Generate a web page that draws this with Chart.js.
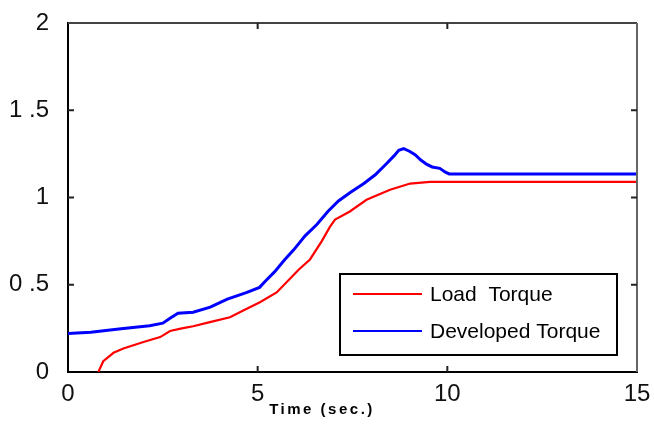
<!DOCTYPE html>
<html>
<head>
<meta charset="utf-8">
<script src="https://cdn.jsdelivr.net/npm/chart.js@4"></script>
<style>
  html, body { margin: 0; padding: 0; background: #fff; }
  #wrap { width: 654px; height: 430px; }
</style>
</head>
<body>
<div id="wrap"><canvas id="c" width="654" height="430"></canvas></div>
<script>
// ---- data ----
const seriesNames = ['Load  Torque', 'Developed Torque'];
const seriesColors = ['#ff0000', '#0000ff'];

const loadTime = [0.8, 0.93, 1.2, 1.46, 1.99, 2.43, 2.69, 3.0, 3.3, 3.74, 4.27, 4.62, 5.06, 5.5, 5.85, 6.1, 6.38, 6.69, 6.9, 7.04, 7.43, 7.87, 8.49, 9.02, 9.54, 15];
const loadTorque = [0, 0.062, 0.11, 0.135, 0.172, 0.2, 0.235, 0.25, 0.262, 0.286, 0.314, 0.352, 0.4, 0.456, 0.535, 0.59, 0.645, 0.75, 0.83, 0.873, 0.92, 0.987, 1.044, 1.08, 1.09, 1.09];

const devTime = [0, 0.6, 1.4, 2.15, 2.5, 2.7, 2.9, 3.3, 3.75, 4.2, 4.7, 5.05, 5.2, 5.45, 5.7, 5.95, 6.25, 6.56, 6.85, 7.13, 7.45, 7.8, 8.1, 8.4, 8.6, 8.72, 8.85, 9.0, 9.15, 9.3, 9.46, 9.6, 9.8, 9.95, 10.05, 15];
const devTorque = [0.22, 0.228, 0.248, 0.265, 0.28, 0.31, 0.337, 0.343, 0.372, 0.418, 0.455, 0.485, 0.52, 0.575, 0.64, 0.7, 0.78, 0.845, 0.92, 0.98, 1.03, 1.08, 1.13, 1.195, 1.24, 1.27, 1.28, 1.265, 1.245, 1.215, 1.19, 1.175, 1.167, 1.145, 1.135, 1.135];

const xTickValues = [0, 5, 10, 15];
const yTickValues = [0, 0.5, 1, 1.5, 2];
const yTickLabels = ['0', '0 .5', '1', '1 .5', '2'];
const xTitle = 'Time (sec.)';

const FONT = "'Liberation Sans', Arial, sans-serif";

const toPoints = (xs, ys) => xs.map((x, i) => ({ x: x, y: ys[i] }));

// frame (top/right borders + inward ticks), legend and x title
const decor = {
  id: 'decor',
  afterDatasetsDraw(chart) {
    const { ctx, chartArea: a, scales } = chart;
    const xs = scales.x, ys = scales.y;
    ctx.save();
    // top and right borders
    ctx.lineWidth = 2;
    ctx.strokeStyle = '#444';
    ctx.beginPath();
    ctx.moveTo(a.left, a.top); ctx.lineTo(a.right, a.top);
    ctx.stroke();
    ctx.strokeStyle = '#666';
    ctx.beginPath();
    ctx.moveTo(a.right, a.top); ctx.lineTo(a.right, a.bottom);
    ctx.stroke();
    // inward ticks
    ctx.strokeStyle = '#222';
    ctx.lineWidth = 2;
    const tl = 6;
    xTickValues.slice(1, -1).forEach(v => {
      const px = xs.getPixelForValue(v);
      ctx.beginPath();
      ctx.moveTo(px, a.bottom); ctx.lineTo(px, a.bottom - tl);
      ctx.moveTo(px, a.top); ctx.lineTo(px, a.top + tl);
      ctx.stroke();
    });
    yTickValues.slice(1, -1).forEach(v => {
      const py = ys.getPixelForValue(v);
      ctx.beginPath();
      ctx.moveTo(a.left, py); ctx.lineTo(a.left + tl, py);
      ctx.moveTo(a.right, py); ctx.lineTo(a.right - tl, py);
      ctx.stroke();
    });
    // legend
    const bx = 340, by = 274, bw = 277, bh = 81;
    ctx.fillStyle = '#fff';
    ctx.fillRect(bx, by, bw, bh);
    ctx.strokeStyle = '#000';
    ctx.lineWidth = 2;
    ctx.strokeRect(bx, by, bw, bh);
    ctx.font = '21px ' + FONT;
    ctx.textBaseline = 'middle';
    ctx.textAlign = 'left';
    chart.data.datasets.forEach((ds, i) => {
      const ly = by + 20 + i * 37;
      ctx.strokeStyle = ds.borderColor;
      ctx.lineWidth = 2;
      ctx.beginPath();
      ctx.moveTo(bx + 13, ly); ctx.lineTo(bx + 82, ly);
      ctx.stroke();
      ctx.fillStyle = '#000';
      ctx.fillText(ds.label, bx + 90, ly + 1);
    });
    // x title
    ctx.font = 'bold 15px ' + FONT;
    ctx.fillStyle = '#000';
    ctx.textAlign = 'center';
    ctx.textBaseline = 'middle';
    try { ctx.letterSpacing = '2.5px'; } catch (e) {}
    ctx.fillText(xTitle, 322, 410);
    ctx.restore();
  }
};

new Chart(document.getElementById('c'), {
  type: 'line',
  data: {
    datasets: [
      { label: seriesNames[0], data: toPoints(loadTime, loadTorque), borderColor: seriesColors[0], borderWidth: 2.2 },
      { label: seriesNames[1], data: toPoints(devTime, devTorque), borderColor: seriesColors[1], borderWidth: 3 }
    ]
  },
  options: {
    responsive: false,
    animation: false,
    devicePixelRatio: 1,
    layout: { padding: { top: 18, right: 17, left: 0, bottom: 0 } },
    elements: { point: { radius: 0 }, line: { tension: 0 } },
    plugins: { legend: { display: false }, tooltip: { enabled: false } },
    scales: {
      x: {
        type: 'linear', min: 0, max: 15,
        afterBuildTicks: s => { s.ticks = xTickValues.map(v => ({ value: v })); },
        ticks: { font: { family: FONT, size: 24 }, color: '#111', padding: 0, maxRotation: 0, autoSkip: false },
        grid: { display: false },
        border: { display: true, color: '#000', width: 2 },
        afterFit: s => { s.height = 58; }
      },
      y: {
        min: 0, max: 2,
        afterBuildTicks: s => { s.ticks = yTickValues.map(v => ({ value: v })); },
        ticks: {
          font: { family: FONT, size: 24, lineHeight: 1 }, color: '#111', padding: 11,
          callback: (v) => yTickLabels[yTickValues.indexOf(v)]
        },
        grid: { display: false },
        border: { display: true, color: '#000', width: 2 },
        afterFit: s => { s.width = 68; }
      }
    }
  },
  plugins: [decor]
});
</script>
</body>
</html>
